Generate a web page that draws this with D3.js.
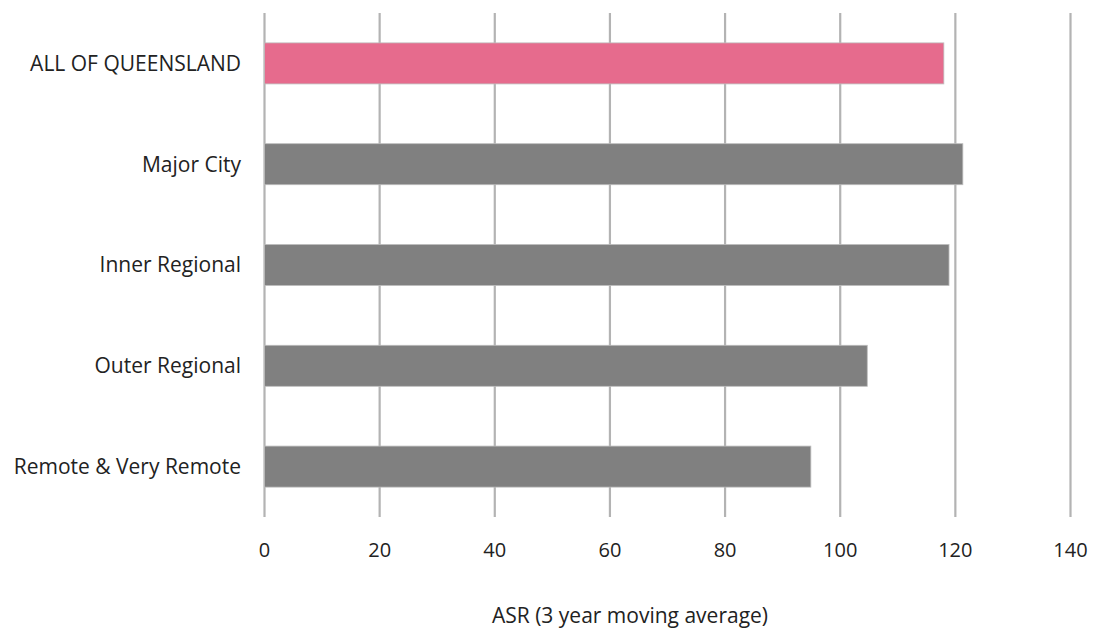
<!DOCTYPE html>
<html><head><meta charset="utf-8">
<script src="https://cdn.jsdelivr.net/npm/d3@7"></script>
<style>body{margin:0;background:#fff;} text{font-family:"Open Sans",sans-serif;fill:#222;}</style>
</head><body>
<svg id="c" width="1093" height="631"></svg>
<script>
const categories = ["ALL OF QUEENSLAND","Major City","Inner Regional","Outer Regional","Remote & Very Remote"];
const values = [118.0, 121.3, 118.9, 104.7, 94.9];
const barColors = ["#E66B8D","#808080","#808080","#808080","#808080"];
const tickValues = [0,20,40,60,80,100,120,140];
const axisTitle = "ASR (3 year moving average)";

const svg = d3.select("#c");
const m = {left:264.5, right:1070.5, top:13, bottom:517};
const x = d3.scaleLinear().domain([0,140]).range([m.left, m.right]);
const y = d3.scaleBand().domain(categories).range([m.top, m.bottom]).paddingInner(0.593).paddingOuter(0.2965);

// gridlines
svg.append("g").selectAll("line").data(tickValues).join("line")
  .attr("x1", d=>x(d)).attr("x2", d=>x(d)).attr("y1", m.top).attr("y2", m.bottom)
  .attr("stroke", "#b3b3b3").attr("stroke-width", 2.2);

// bars
svg.append("g").selectAll("rect").data(categories).join("rect")
  .attr("x", x(0)).attr("y", d=>y(d)).attr("width", (d,i)=>x(values[i])-x(0)).attr("height", y.bandwidth())
  .attr("fill", (d,i)=>barColors[i]).attr("stroke", "#bdbdbd").attr("stroke-width", 0.8);

// y labels
svg.append("g").selectAll("text").data(categories).join("text")
  .attr("x", 241).attr("y", d=>y(d)+y.bandwidth()/2).attr("dy", "0.35em")
  .attr("text-anchor", "end").style("font-size", "21px").text(d=>d);

// x tick labels
svg.append("g").selectAll("text").data(tickValues).join("text")
  .attr("x", d=>x(d)).attr("y", 557).attr("text-anchor", "middle").style("font-size", "20px").text(d=>d);

svg.append("text").attr("x", 630).attr("y", 623).attr("text-anchor", "middle").style("font-size", "21px").text(axisTitle);
</script>
</body></html>
